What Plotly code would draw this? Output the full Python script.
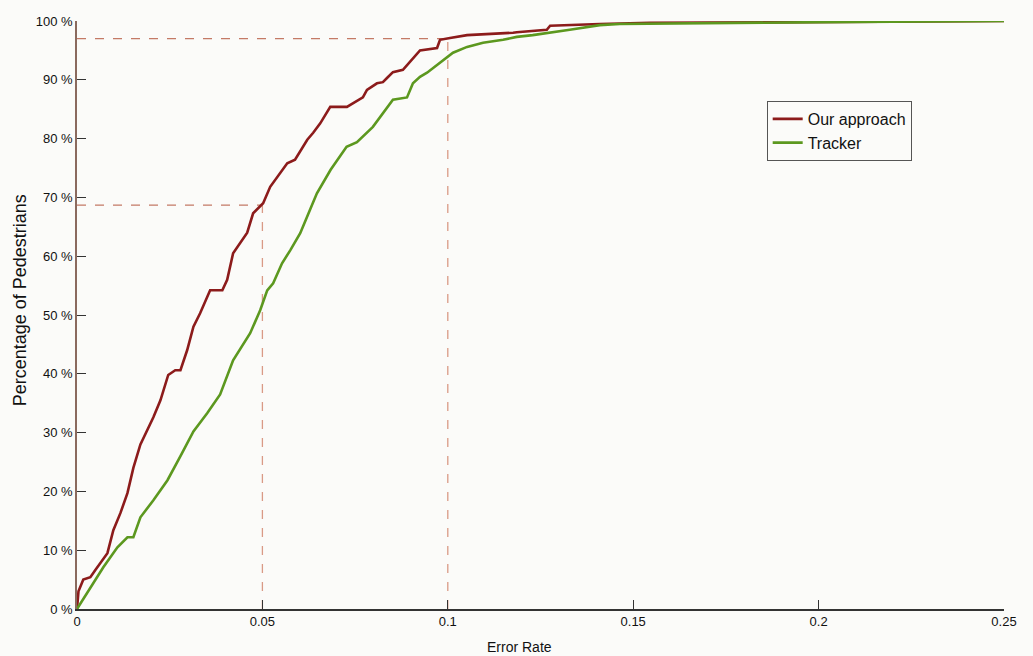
import plotly.graph_objects as go

# Cumulative share of pedestrians (%) whose error rate is at most x
ours_err = [0, 0.0004, 0.0017, 0.0036, 0.0049, 0.0068, 0.0082, 0.0098, 0.0117, 0.0136,
            0.0152, 0.0171, 0.0190, 0.0206, 0.0225, 0.0246, 0.0265, 0.0279, 0.0297, 0.0314,
            0.0332, 0.0359, 0.0392, 0.0405, 0.0421, 0.0446, 0.0459, 0.0475, 0.0494, 0.0502,
            0.0521, 0.0567, 0.0588, 0.0621, 0.0637, 0.0656, 0.0683, 0.0728, 0.0771, 0.0782,
            0.0809, 0.0825, 0.0836, 0.0852, 0.0879, 0.0898, 0.0925, 0.0971, 0.0979, 0.1006,
            0.1052, 0.1176, 0.1186, 0.1267, 0.1276, 0.1410, 0.1545, 0.1949, 0.25]
ours_pct = [0, 3, 5, 5.4, 6.6, 8.3, 9.5, 13.4, 16.3, 19.7,
            24, 28, 30.4, 32.6, 35.5, 39.8, 40.6, 40.6, 44, 48,
            50.3, 54.2, 54.2, 56, 60.5, 62.8, 64, 67.3, 68.5, 69,
            71.8, 75.8, 76.4, 79.8, 81, 82.6, 85.4, 85.4, 87, 88.3,
            89.4, 89.6, 90.3, 91.3, 91.7, 93, 95, 95.4, 96.8, 97.1,
            97.6, 98, 98.1, 98.5, 99.2, 99.5, 99.7, 99.8, 100]

tracker_err = [0, 0.0036, 0.0071, 0.0109, 0.0136, 0.0152, 0.0171, 0.0206, 0.0244, 0.0279,
               0.0314, 0.0351, 0.0386, 0.0421, 0.0467, 0.0494, 0.0513, 0.0529, 0.0553, 0.0575,
               0.0602, 0.0629, 0.0647, 0.0684, 0.0727, 0.0755, 0.0798, 0.0852, 0.0890, 0.0906,
               0.0925, 0.0944, 0.0979, 0.1014, 0.1052, 0.1095, 0.1149, 0.1186, 0.1229, 0.1276,
               0.1329, 0.1410, 0.1464, 0.20, 0.25]
tracker_pct = [0, 3.7, 7.1, 10.5, 12.2, 12.2, 15.6, 18.5, 21.9, 26,
               30.2, 33.3, 36.5, 42.3, 46.9, 50.8, 54.2, 55.4, 58.8, 61,
               63.9, 68, 70.7, 74.7, 78.6, 79.4, 82, 86.6, 87, 89.4,
               90.5, 91.2, 92.9, 94.6, 95.6, 96.3, 96.8, 97.3, 97.6, 98,
               98.5, 99.3, 99.5, 99.8, 100]

# Reference readings marked with dashed guides: (error rate, percentage)
guides = [(0.05, 68.7), (0.1, 97)]

x_ticks = [0, 0.05, 0.1, 0.15, 0.2, 0.25]
x_tick_text = ["0", "0.05", "0.1", "0.15", "0.2", "0.25"]
y_ticks = list(range(0, 101, 10))
y_tick_text = [f"{v} %" for v in y_ticks]

RED = "#8c1b1b"
GREEN = "#5c981f"
FONT = "Liberation Sans Narrow, Arial Narrow, Liberation Sans, Arial, sans-serif"

fig = go.Figure()
fig.add_trace(go.Scatter(x=ours_err, y=ours_pct, mode="lines", name="Our approach",
                         line=dict(color=RED, width=2.6)))
fig.add_trace(go.Scatter(x=tracker_err, y=tracker_pct, mode="lines", name="Tracker",
                         line=dict(color=GREEN, width=2.6)))

shapes = []
for gx, gy in guides:
    shapes.append(dict(type="line", xref="x", yref="y", x0=0, x1=gx, y0=gy, y1=gy,
                       line=dict(color="#c47a66", width=1.3, dash="dash"), layer="below"))
    shapes.append(dict(type="line", xref="x", yref="y", x0=gx, x1=gx, y0=0, y1=gy,
                       line=dict(color="#d99a86", width=1.3, dash="dash"), layer="below"))

fig.update_layout(
    width=1033, height=656,
    margin=dict(l=77, r=29, t=21, b=47),
    paper_bgcolor="#fbfbf9",
    plot_bgcolor="#fbfbf9",
    font=dict(family=FONT, size=13, color="#222"),
    shapes=shapes,
    showlegend=True,
    legend=dict(x=0.744, y=0.864, xanchor="left", yanchor="top",
                bgcolor="rgba(255,255,255,0)", bordercolor="#555", borderwidth=1,
                font=dict(family=FONT, size=16, color="#111"),
                itemwidth=30, tracegroupgap=0),
    annotations=[
        dict(text="Error Rate", x=(519 - 77) / 927, y=-0.048, xref="paper", yref="paper",
             xanchor="center", yanchor="top", showarrow=False,
             font=dict(family=FONT, size=14, color="#111")),
        dict(text="Percentage of Pedestrians", x=-0.0615, y=0.525, xref="paper", yref="paper",
             textangle=-90, xanchor="center", yanchor="middle", showarrow=False,
             font=dict(family="Liberation Sans, Arial, sans-serif", size=18, color="#111")),
    ],
)
fig.update_xaxes(range=[0, 0.25], tickvals=x_ticks, ticktext=x_tick_text,
                 showgrid=False, zeroline=False, showline=True, linecolor="#333", linewidth=1.5,
                 ticks="inside", ticklen=9, tickcolor="#333",
                 tickfont=dict(family=FONT, size=13, color="#111"))
fig.update_yaxes(range=[0, 100], tickvals=y_ticks, ticktext=y_tick_text,
                 showgrid=False, zeroline=False, showline=True, linecolor="#8a6a5e", linewidth=1.5,
                 ticks="inside", ticklen=9, tickcolor="#333",
                 tickfont=dict(family=FONT, size=13, color="#111"))

fig.write_html("out.html")
